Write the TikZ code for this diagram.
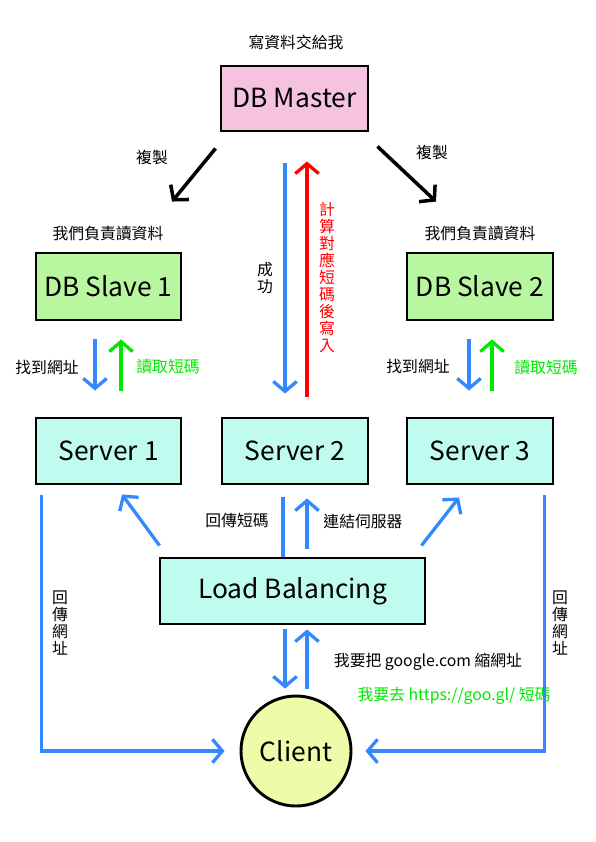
\documentclass[tikz,border=0pt]{standalone}
\usepackage{fontspec}
\setmainfont{Noto Sans CJK TC}
\usetikzlibrary{arrows.meta,calc}
\definecolor{linkblue}{HTML}{3388FF}
\definecolor{readgreen}{HTML}{00E800}
\definecolor{masterpink}{HTML}{F5C3E0}
\definecolor{slavegreen}{HTML}{B8F7A0}
\definecolor{servercyan}{HTML}{C0FBEF}
\definecolor{clientyellow}{HTML}{ECFCA8}

\begin{document}
\begin{tikzpicture}[x=0.03cm,y=-0.03cm,>={Straight Barb[length=8.5pt,width=20pt]},
  box/.style={draw,line width=2.5pt,inner sep=0pt,font=\fontsize{22.5}{26}\selectfont},
  lbl/.style={inner sep=0pt,font=\fontsize{13.5}{13.5}\selectfont},
  vlbl/.style={lbl,align=center,font=\fontsize{13.5}{14.5}\selectfont},
  bluearr/.style={draw=linkblue,line width=2.8pt},
  greenarr/.style={draw=readgreen,line width=2.8pt},
  redarr/.style={draw=red,line width=2.8pt},
  blackarr/.style={draw=black,line width=3pt}]
\useasboundingbox (0,0) rectangle (596,842);

% boxes
\node[box,fill=masterpink,minimum width=4.41cm,minimum height=1.95cm] (master) at (294.5,98.5) {DB Master};
\node[box,fill=slavegreen,minimum width=4.35cm,minimum height=2.01cm] (slave1) at (108.5,286.5) {DB Slave 1};
\node[box,fill=slavegreen,minimum width=4.38cm,minimum height=2.01cm] (slave2) at (480,286.5) {DB Slave 2};
\node[box,fill=servercyan,minimum width=4.35cm,minimum height=1.98cm] (server1) at (108.5,451) {Server 1};
\node[box,fill=servercyan,minimum width=4.38cm,minimum height=1.98cm] (server2) at (295,451) {Server 2};
\node[box,fill=servercyan,minimum width=4.38cm,minimum height=1.98cm] (server3) at (480,451) {Server 3};
\node[box,fill=servercyan,minimum width=7.95cm,minimum height=1.98cm] (lb) at (292.5,591) {Load Balancing};
\node[box,circle,fill=clientyellow,minimum size=3.3cm] (client) at (296,751) {Client};

% labels
\node[lbl] (writeme) at (296,42) {寫資料交給我};
\node[lbl] (copyl) at (152,157) {複製};
\node[lbl] (copyr) at (432,152) {複製};
\node[lbl] (readl) at (108,233) {我們負責讀資料};
\node[lbl] (readr) at (480,233) {我們負責讀資料};
\node[vlbl] (ok) at (265,278) {成\\功};
\node[vlbl,text=red] (calc) at (327,277) {計\\算\\對\\應\\短\\碼\\後\\寫\\入};
\node[lbl] (findl) at (47,367) {找到網址};
\node[lbl,text=readgreen] (getl) at (168,367) {讀取短碼};
\node[lbl] (findr) at (418,366) {找到網址};
\node[lbl,text=readgreen] (getr) at (546,368) {讀取短碼};
\node[lbl] (backcode) at (237,521) {回傳短碼};
\node[lbl] (connect) at (363,521) {連結伺服器};
\node[vlbl] (backl) at (60,623) {回\\傳\\網\\址};
\node[vlbl] (backr) at (560,623) {回\\傳\\網\\址};
\node[lbl] (shorten) at (428,662) {我要把 google.com 縮網址};
\node[lbl,text=readgreen] (goto) at (454,696) {我要去 https://goo.gl/ 短碼};

% master to slaves
\draw[blackarr,->] ($(master.south west)+(-4,16)$) -- ($(slave1.north)+(63.5,-50)$);
\draw[blackarr,->] ($(master.south east)+(8,14)$) -- ($(slave2.north)+(-44,-50)$);

% master and server 2
\draw[bluearr,->] ($(master.south)+(-9.5,31)$) -- ($(server2.north)+(-10,-23)$);
\draw[redarr,->] ($(server2.north)+(12,-20)$) -- ($(master.south)+(12.5,29)$);

% slaves and servers
\draw[bluearr,->] ($(slave1.south)+(-13.5,18)$) -- ($(server1.north)+(-13.5,-26)$);
\draw[greenarr,->] ($(server1.north)+(12.5,-26)$) -- ($(slave1.south)+(12.5,18)$);
\draw[bluearr,->] ($(slave2.south)+(-11,18)$) -- ($(server3.north)+(-11,-26)$);
\draw[greenarr,->] ($(server3.north)+(12,-26)$) -- ($(slave2.south)+(12,18)$);

% load balancing and servers
\draw[bluearr,->] ($(lb.north west)+(1,-11)$) -- ($(server1.south)+(13.5,9)$);
\draw[bluearr,->] ($(lb.north east)+(-5,-11)$) -- ($(server3.south)+(-21,12)$);
\draw[bluearr] ($(server2.south)+(-12,12)$) -- ($(lb.north)+(-9.5,0)$);
\draw[bluearr,->] ($(lb.north)+(14.5,-8)$) -- ($(server2.south)+(12,13)$);

% load balancing and client
\draw[bluearr,->] ($(lb.south)+(-7.5,4)$) -- ($(client.north)+(-11,-6)$);
\draw[bluearr,->] ($(client.north)+(11,-6)$) -- ($(lb.south)+(14.5,4)$);

% servers back to client
\draw[bluearr,->] ($(server1.south west)+(7,10)$) |- ($(client.west)+(-15,0)$);
\draw[bluearr,->] ($(server3.south east)+(-10,10)$) |- ($(client.east)+(13,0)$);
\end{tikzpicture}
\end{document}
